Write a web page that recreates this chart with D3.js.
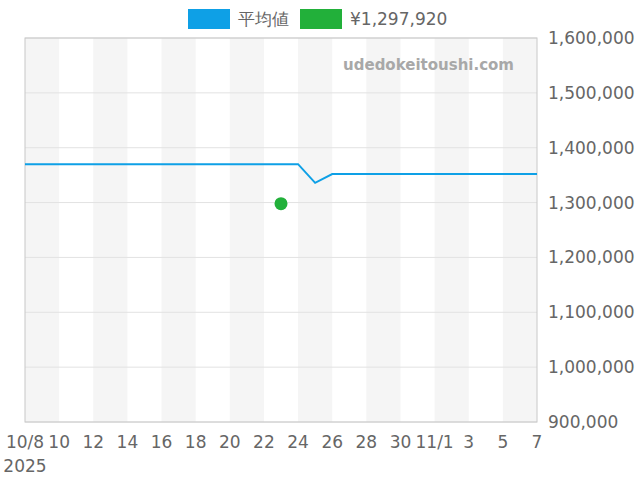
<!DOCTYPE html>
<html><head><meta charset="utf-8">
<script src="https://cdn.jsdelivr.net/npm/d3@7"></script>
<style>body{margin:0;background:#fff}text{font-family:"DejaVu Sans",sans-serif}</style>
</head><body><svg id="c" width="640" height="480"></svg>
<script>
// data
var avgDates = ["2025-10-08","2025-10-24","2025-10-25","2025-10-26","2025-11-07"];
var avgValues = [1370000, 1370000, 1336000, 1352000, 1352000];
var pointDate = "2025-10-23";
var pointValue = 1297920;
var yTicks = [900000,1000000,1100000,1200000,1300000,1400000,1500000,1600000];
var xTickDates = ["2025-10-08","2025-10-10","2025-10-12","2025-10-14","2025-10-16","2025-10-18","2025-10-20","2025-10-22","2025-10-24","2025-10-26","2025-10-28","2025-10-30","2025-11-01","2025-11-03","2025-11-05","2025-11-07"];
var xTickLabels = ["10/8","10","12","14","16","18","20","22","24","26","28","30","11/1","3","5","7"];

var parse = d3.utcParse("%Y-%m-%d");
var svg = d3.select("#c");
var L = 25, R = 537, T = 38, B = 422;
var x = d3.scaleUtc().domain([parse("2025-10-08"), parse("2025-11-07")]).range([L, R]);
var y = d3.scaleLinear().domain([900000, 1600000]).range([B, T]);

// alternating bands
for (var i = 0; i < xTickDates.length - 1; i += 2) {
  svg.append("rect").attr("x", x(parse(xTickDates[i]))).attr("y", T)
    .attr("width", x(parse(xTickDates[i+1])) - x(parse(xTickDates[i]))).attr("height", B - T)
    .attr("fill", "#f5f5f5");
}
// grid
svg.selectAll(".g").data(yTicks).enter().append("line")
  .attr("x1", L).attr("x2", R).attr("y1", d => y(d)).attr("y2", d => y(d))
  .attr("stroke", "#e2e2e2");
svg.append("rect").attr("x", L).attr("y", T).attr("width", R - L).attr("height", B - T)
  .attr("fill", "none").attr("stroke", "#c8c8c8");

// y axis labels
svg.selectAll(".yl").data(yTicks).enter().append("text")
  .attr("x", 548).attr("y", d => y(d) + 6).attr("font-size", 17).attr("fill", "#666")
  .text(d => d3.format(",")(d));
// x axis labels
svg.selectAll(".xl").data(xTickDates).enter().append("text")
  .attr("x", d => x(parse(d))).attr("y", 448).attr("text-anchor", "middle")
  .attr("font-size", 17).attr("fill", "#666").text((d, i) => xTickLabels[i]);
svg.append("text").attr("x", 25).attr("y", 472).attr("text-anchor", "middle")
  .attr("font-size", 17).attr("fill", "#666").text("2025");

// watermark
svg.append("text").attr("x", 514).attr("y", 70).attr("text-anchor", "end")
  .attr("font-size", 15).attr("font-weight", "bold").attr("fill", "#a8a8a8").text("udedokeitoushi.com");

// line
var line = d3.line().x((d, i) => x(parse(avgDates[i]))).y(d => y(d));
svg.append("path").datum(avgValues).attr("d", line).attr("fill", "none")
  .attr("stroke", "#0ea0e6").attr("stroke-width", 2);
svg.append("circle").attr("cx", x(parse(pointDate))).attr("cy", y(pointValue)).attr("r", 6.5)
  .attr("fill", "#22b03a");

// legend
var leg = [{c:"#0ea0e6", t:"平均値", x:188}, {c:"#22b03a", t:"¥" + d3.format(",")(pointValue), x:300}];
leg.forEach(function(l) {
  svg.append("rect").attr("x", l.x).attr("y", 9).attr("width", 42).attr("height", 20).attr("fill", l.c);
  svg.append("text").attr("x", l.x + 50).attr("y", 25).attr("font-size", 17).attr("fill", "#666").text(l.t);
});
</script></body></html>
